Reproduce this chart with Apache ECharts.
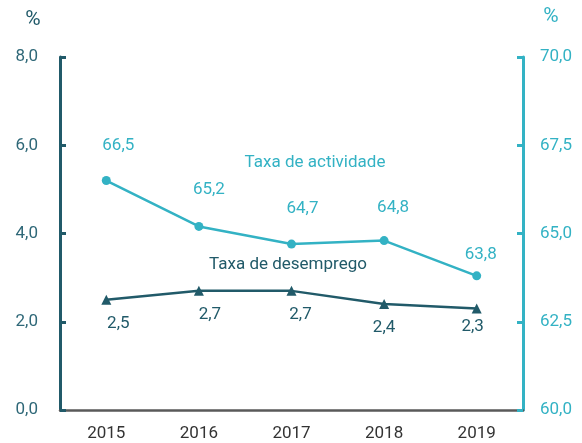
<!DOCTYPE html>
<html>
<head>
<meta charset="utf-8">
<script src="https://cdn.jsdelivr.net/npm/echarts@6/dist/echarts.min.js"></script>
<style>
  html, body { margin: 0; padding: 0; background: #fff; }
  #chart { width: 582px; height: 443px; }
</style>
</head>
<body>
<div id="chart"></div>
<script>
var years = ['2015', '2016', '2017', '2018', '2019'];
var desemprego = [2.5, 2.7, 2.7, 2.4, 2.3];
var actividade = [66.5, 65.2, 64.7, 64.8, 63.8];

// label placement tweaks (x offset, distance from point)
var desempregoLabelX = [12, 11, 9, 0, -4];
var desempregoLabelDist = [11, 10, 10, 10, 5];
var actividadeLabelX = [12, 10, 11, 9, 4];
var actividadeLabelDist = [22, 24, 22, 20, 8];

var darkTeal = '#215a69';
var cyan = '#33b2c4';
var font = 'Roboto, Liberation Sans, Arial, sans-serif';
var fs = 17;

function fmt(v) {
  return v.toFixed(1).replace('.', ',')
}

function txt(x, y, s, color, size) {
  return {
    type: 'text',
    style: {
      x: x, y: y, text: s, fill: color,
      fontSize: size, fontFamily: font,
      align: 'center', verticalAlign: 'middle'
    }
  }
}

var chart = echarts.init(document.getElementById('chart'))
chart.setOption({
  backgroundColor: '#fff',
  animation: false,
  grid: { left: 60, right: 59, top: 57, bottom: 33 },
  graphic: [
    txt(33, 20, '%', darkTeal, 21),
    txt(551, 17, '%', cyan, 21),
    txt(315, 163, 'Taxa de actividade', cyan, fs),
    txt(288, 265, 'Taxa de desemprego', darkTeal, fs)
  ],
  xAxis: {
    type: 'category',
    data: years,
    boundaryGap: true,
    axisLine: { lineStyle: { color: '#595959', width: 2.5 } },
    axisTick: { inside: true, length: 6, lineStyle: { color: '#595959', width: 2 } },
    axisLabel: { color: '#333', fontSize: fs, fontFamily: font, margin: 15 }
  },
  yAxis: [
    {
      type: 'value',
      min: 0, max: 8, interval: 2,
      axisLine: { show: true, lineStyle: { color: darkTeal, width: 3 } },
      axisTick: { show: true, inside: true, length: 6, lineStyle: { color: darkTeal, width: 3 } },
      splitLine: { show: false },
      axisLabel: { color: '#2f6878', fontSize: fs, fontFamily: font, margin: 22, formatter: fmt }
    },
    {
      type: 'value',
      min: 60, max: 70, interval: 2.5,
      position: 'right',
      axisLine: { show: true, lineStyle: { color: cyan, width: 3 } },
      axisTick: { show: true, inside: true, length: 6, lineStyle: { color: cyan, width: 3 } },
      splitLine: { show: false },
      axisLabel: { color: cyan, fontSize: fs, fontFamily: font, margin: 17, formatter: fmt }
    }
  ],
  series: [
    {
      name: 'Taxa de desemprego',
      type: 'line',
      yAxisIndex: 0,
      data: desemprego.map(function (v, i) {
        return { value: v, label: { offset: [desempregoLabelX[i], 0], distance: desempregoLabelDist[i] } }
      }),
      symbol: 'triangle',
      symbolSize: 10,
      itemStyle: { color: darkTeal },
      lineStyle: { color: darkTeal, width: 2.5 },
      label: {
        show: true, position: 'bottom',
        color: darkTeal, fontSize: fs, fontFamily: font,
        formatter: function (p) { return fmt(p.value) }
      }
    },
    {
      name: 'Taxa de actividade',
      type: 'line',
      yAxisIndex: 1,
      data: actividade.map(function (v, i) {
        return { value: v, label: { offset: [actividadeLabelX[i], 0], distance: actividadeLabelDist[i] } }
      }),
      symbol: 'circle',
      symbolSize: 9,
      itemStyle: { color: cyan },
      lineStyle: { color: cyan, width: 2.5 },
      label: {
        show: true, position: 'top',
        color: cyan, fontSize: fs, fontFamily: font,
        formatter: function (p) { return fmt(p.value) }
      }
    }
  ]
})
</script>
</body>
</html>
